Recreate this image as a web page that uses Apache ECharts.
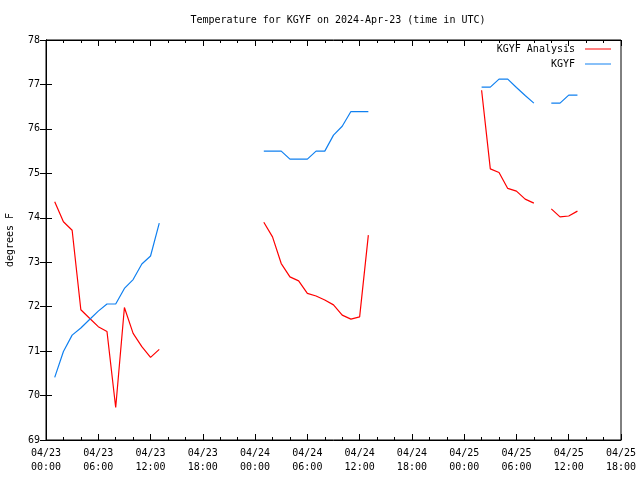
<!DOCTYPE html>
<html>
<head>
<meta charset="utf-8">
<script src="https://cdn.jsdelivr.net/npm/echarts@6/dist/echarts.min.js"></script>
<style>html,body{margin:0;padding:0;background:#fff}#c{width:640px;height:480px}</style>
</head>
<body>
<div id="c"></div>
<script>
const hours = [1,2,3,4,5,6,7,8,9,10,11,12,13,19,
  25,26,27,28,29,30,31,32,33,34,35,36,37,43,
  50,51,52,53,54,55,56,57,58,59,60,61];
const analysis = [74.36,73.91,73.72,71.93,71.74,71.55,71.44,69.73,71.98,71.40,71.10,70.86,71.04,null,
  73.90,73.57,72.97,72.67,72.58,72.30,72.24,72.15,72.04,71.81,71.72,71.77,73.61,null,
  76.87,75.10,75.02,74.66,74.60,74.42,74.33,null,74.20,74.02,74.04,74.15];
const observed = [70.41,70.99,71.36,71.52,71.71,71.90,72.06,72.06,72.41,72.61,72.96,73.14,73.88,null,
  75.50,75.50,75.50,75.32,75.32,75.32,75.50,75.50,75.86,76.06,76.39,76.39,76.39,null,
  76.94,76.94,77.12,77.12,76.93,76.75,76.58,null,76.58,76.58,76.76,76.76];
const tickLabels = ["04/23\n00:00","04/23\n06:00","04/23\n12:00","04/23\n18:00",
  "04/24\n00:00","04/24\n06:00","04/24\n12:00","04/24\n18:00",
  "04/25\n00:00","04/25\n06:00","04/25\n12:00","04/25\n18:00"];
const seriesNames = ["KGYF Analysis","KGYF"];

const FONT = "DejaVu Sans Mono";
const chart = echarts.init(document.getElementById('c'), null, {renderer:'canvas'});
const pairs = arr => hours.map((h,i)=>[h, arr[i]]);
const axisLine = {show:true, lineStyle:{color:'#000', width:1}};
chart.setOption({
  animation:false,
  backgroundColor:'#fff',
  title:{text:'Temperature for KGYF on 2024-Apr-23 (time in UTC)', left:333, textAlign:'center', top:10,
    textStyle:{fontFamily:FONT, fontSize:10, fontWeight:'normal', color:'#000'}},
  legend:{orient:'vertical', right:24, top:38, align:'right', icon:'rect', itemWidth:26, itemHeight:1, itemGap:3,
    data:seriesNames, textStyle:{fontFamily:FONT, fontSize:10, color:'#000', padding:[0,5,0,0], lineHeight:12}},
  grid:{left:46, right:19, top:40, bottom:40, show:true, borderColor:'#000', borderWidth:1,
    backgroundColor:'transparent', containLabel:false, outerBoundsMode:'none'},
  xAxis:[{type:'value', min:0, max:66, interval:6, position:'bottom',
      axisLine:axisLine, axisTick:{inside:true, length:6, lineStyle:{color:'#000'}},
      minorTick:{show:true, splitNumber:3, length:3, lineStyle:{color:'#000'}},
      splitLine:{show:false},
      axisLabel:{margin:6, fontFamily:FONT, fontSize:10, color:'#000', lineHeight:14,
        formatter: v => tickLabels[Math.round(v/6)]}},
    {type:'value', min:0, max:66, interval:6, position:'top',
      axisLine:axisLine, axisTick:{inside:true, length:6, lineStyle:{color:'#000'}},
      minorTick:{show:true, splitNumber:3, length:3, lineStyle:{color:'#000'}},
      splitLine:{show:false}, axisLabel:{show:false}}],
  yAxis:[{type:'value', min:69, max:78, interval:1, position:'left',
      name:'degrees F', nameLocation:'middle', nameRotate:90, nameGap:31,
      nameTextStyle:{fontFamily:FONT, fontSize:10, color:'#000'},
      axisLine:axisLine, axisTick:{inside:true, length:6, lineStyle:{color:'#000'}},
      splitLine:{show:false},
      axisLabel:{margin:6, fontFamily:FONT, fontSize:10, color:'#000'}},
    {type:'value', min:69, max:78, interval:1, position:'right',
      axisLine:axisLine, axisTick:{inside:true, length:6, lineStyle:{color:'#000'}},
      splitLine:{show:false}, axisLabel:{show:false}}],
  series:[
    {name:seriesNames[0], type:'line', data:pairs(analysis), symbol:'none', showSymbol:false, connectNulls:false,
      lineStyle:{color:'#ff0000', width:1.2}, itemStyle:{color:'#ff0000'}},
    {name:seriesNames[1], type:'line', data:pairs(observed), symbol:'none', showSymbol:false, connectNulls:false,
      lineStyle:{color:'#1080f0', width:1.2}, itemStyle:{color:'#1080f0'}}
  ]
});
</script>
</body>
</html>
